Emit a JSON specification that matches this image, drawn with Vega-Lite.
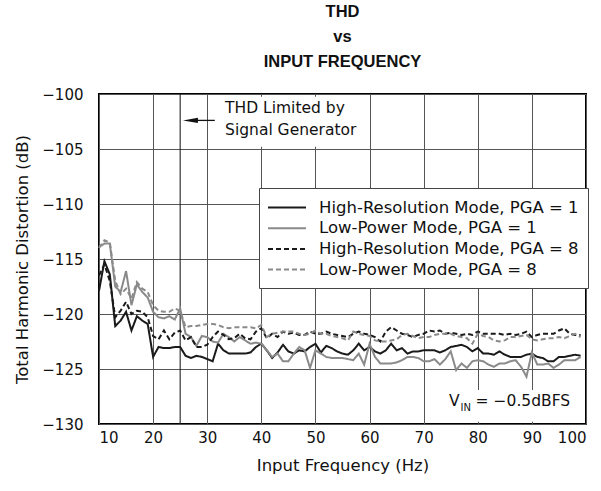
{
  "$schema": "https://vega.github.io/schema/vega-lite/v6.json",
  "width": 487,
  "height": 330,
  "autosize": {"type": "none"},
  "padding": {"left": 99, "top": 94, "right": 15, "bottom": 67},
  "background": "white",
  "config": {
    "font": "DejaVu Sans",
    "view": {"stroke": "black", "strokeWidth": 2},
    "axis": {"gridColor": "#555", "gridWidth": 1, "gridOpacity": 1, "ticks": false, "domain": false, "labelFontSize": 15, "titleFontSize": 16.5, "titleFontWeight": "normal", "labelColor": "#111", "titleColor": "#111"}
  },
  "title": {"text": ["THD", "vs", "INPUT FREQUENCY"], "font": "Liberation Sans", "fontSize": 16.5, "fontWeight": "bold", "lineHeight": 25, "anchor": "middle", "offset": 17, "color": "#111"},
  "datasets": {
    "thd": [
{"f":10,"s":"HR1","v":-117.9},{"f":11,"s":"HR1","v":-115.2},{"f":12,"s":"HR1","v":-116.4},{"f":13,"s":"HR1","v":-121.1},{"f":14,"s":"HR1","v":-120.6},{"f":15,"s":"HR1","v":-119.8},{"f":16,"s":"HR1","v":-121.5},{"f":17,"s":"HR1","v":-120.2},{"f":18,"s":"HR1","v":-120.6},{"f":19,"s":"HR1","v":-120.9},
{"f":20,"s":"HR1","v":-123.9},{"f":21,"s":"HR1","v":-123.0},{"f":22,"s":"HR1","v":-123.1},{"f":23,"s":"HR1","v":-123.1},{"f":24,"s":"HR1","v":-123.0},{"f":25,"s":"HR1","v":-123.0},{"f":26,"s":"HR1","v":-123.8},{"f":27,"s":"HR1","v":-124.0},{"f":28,"s":"HR1","v":-123.8},{"f":29,"s":"HR1","v":-123.9},
{"f":30,"s":"HR1","v":-124.1},{"f":31,"s":"HR1","v":-124.3},{"f":32,"s":"HR1","v":-122.7},{"f":33,"s":"HR1","v":-123.3},{"f":34,"s":"HR1","v":-123.6},{"f":35,"s":"HR1","v":-123.6},{"f":36,"s":"HR1","v":-123.6},{"f":37,"s":"HR1","v":-123.6},{"f":38,"s":"HR1","v":-123.5},{"f":39,"s":"HR1","v":-123.0},
{"f":40,"s":"HR1","v":-122.7},{"f":41,"s":"HR1","v":-123.3},{"f":42,"s":"HR1","v":-124.0},{"f":43,"s":"HR1","v":-123.5},{"f":44,"s":"HR1","v":-122.8},{"f":45,"s":"HR1","v":-123.4},{"f":46,"s":"HR1","v":-123.6},{"f":47,"s":"HR1","v":-123.3},{"f":48,"s":"HR1","v":-123.4},{"f":49,"s":"HR1","v":-123.0},
{"f":50,"s":"HR1","v":-122.7},{"f":51,"s":"HR1","v":-123.5},{"f":52,"s":"HR1","v":-122.9},{"f":53,"s":"HR1","v":-123.1},{"f":54,"s":"HR1","v":-123.4},{"f":55,"s":"HR1","v":-123.6},{"f":56,"s":"HR1","v":-123.7},{"f":57,"s":"HR1","v":-123.3},{"f":58,"s":"HR1","v":-122.7},{"f":59,"s":"HR1","v":-123.3},
{"f":60,"s":"HR1","v":-123.0},{"f":61,"s":"HR1","v":-123.4},{"f":62,"s":"HR1","v":-123.6},{"f":63,"s":"HR1","v":-123.3},{"f":64,"s":"HR1","v":-122.7},{"f":65,"s":"HR1","v":-123.3},{"f":66,"s":"HR1","v":-123.1},{"f":67,"s":"HR1","v":-123.6},{"f":68,"s":"HR1","v":-123.4},{"f":69,"s":"HR1","v":-123.4},
{"f":70,"s":"HR1","v":-123.3},{"f":71,"s":"HR1","v":-123.3},{"f":72,"s":"HR1","v":-123.3},{"f":73,"s":"HR1","v":-123.5},{"f":74,"s":"HR1","v":-123.3},{"f":75,"s":"HR1","v":-123.0},{"f":76,"s":"HR1","v":-122.9},{"f":77,"s":"HR1","v":-122.8},{"f":78,"s":"HR1","v":-123.0},{"f":79,"s":"HR1","v":-123.4},
{"f":80,"s":"HR1","v":-123.1},{"f":81,"s":"HR1","v":-123.6},{"f":82,"s":"HR1","v":-123.6},{"f":83,"s":"HR1","v":-123.7},{"f":84,"s":"HR1","v":-123.4},{"f":85,"s":"HR1","v":-123.7},{"f":86,"s":"HR1","v":-123.9},{"f":87,"s":"HR1","v":-123.9},{"f":88,"s":"HR1","v":-123.9},{"f":89,"s":"HR1","v":-123.7},
{"f":90,"s":"HR1","v":-123.6},{"f":91,"s":"HR1","v":-123.9},{"f":92,"s":"HR1","v":-124.0},{"f":93,"s":"HR1","v":-124.3},{"f":94,"s":"HR1","v":-124.3},{"f":95,"s":"HR1","v":-123.9},{"f":96,"s":"HR1","v":-123.9},{"f":97,"s":"HR1","v":-123.8},{"f":98,"s":"HR1","v":-123.7},{"f":99,"s":"HR1","v":-123.8},
{"f":10,"s":"LP1","v":-113.9},{"f":11,"s":"LP1","v":-113.6},{"f":12,"s":"LP1","v":-113.6},{"f":13,"s":"LP1","v":-117.5},{"f":14,"s":"LP1","v":-118.0},{"f":15,"s":"LP1","v":-116.1},{"f":16,"s":"LP1","v":-119.2},{"f":17,"s":"LP1","v":-117.3},{"f":18,"s":"LP1","v":-118.0},{"f":19,"s":"LP1","v":-118.5},
{"f":20,"s":"LP1","v":-119.8},{"f":21,"s":"LP1","v":-120.3},{"f":22,"s":"LP1","v":-120.4},{"f":23,"s":"LP1","v":-120.2},{"f":24,"s":"LP1","v":-120.5},{"f":25,"s":"LP1","v":-119.5},{"f":26,"s":"LP1","v":-121.8},{"f":27,"s":"LP1","v":-122.1},{"f":28,"s":"LP1","v":-122.9},{"f":29,"s":"LP1","v":-122.0},
{"f":30,"s":"LP1","v":-122.1},{"f":31,"s":"LP1","v":-122.5},{"f":32,"s":"LP1","v":-122.6},{"f":33,"s":"LP1","v":-121.8},{"f":34,"s":"LP1","v":-122.1},{"f":35,"s":"LP1","v":-122.5},{"f":36,"s":"LP1","v":-122.1},{"f":37,"s":"LP1","v":-122.4},{"f":38,"s":"LP1","v":-122.7},{"f":39,"s":"LP1","v":-122.6},
{"f":40,"s":"LP1","v":-122.7},{"f":41,"s":"LP1","v":-123.3},{"f":42,"s":"LP1","v":-123.9},{"f":43,"s":"LP1","v":-123.6},{"f":44,"s":"LP1","v":-124.3},{"f":45,"s":"LP1","v":-124.3},{"f":46,"s":"LP1","v":-123.6},{"f":47,"s":"LP1","v":-123.0},{"f":48,"s":"LP1","v":-123.3},{"f":49,"s":"LP1","v":-124.9},
{"f":50,"s":"LP1","v":-123.3},{"f":51,"s":"LP1","v":-123.6},{"f":52,"s":"LP1","v":-123.9},{"f":53,"s":"LP1","v":-124.0},{"f":54,"s":"LP1","v":-124.0},{"f":55,"s":"LP1","v":-124.0},{"f":56,"s":"LP1","v":-124.1},{"f":57,"s":"LP1","v":-124.2},{"f":58,"s":"LP1","v":-123.6},{"f":59,"s":"LP1","v":-124.6},
{"f":60,"s":"LP1","v":-122.7},{"f":61,"s":"LP1","v":-123.9},{"f":62,"s":"LP1","v":-124.5},{"f":63,"s":"LP1","v":-124.5},{"f":64,"s":"LP1","v":-124.5},{"f":65,"s":"LP1","v":-124.4},{"f":66,"s":"LP1","v":-124.2},{"f":67,"s":"LP1","v":-123.9},{"f":68,"s":"LP1","v":-123.9},{"f":69,"s":"LP1","v":-124.0},
{"f":70,"s":"LP1","v":-124.3},{"f":71,"s":"LP1","v":-124.3},{"f":72,"s":"LP1","v":-124.1},{"f":73,"s":"LP1","v":-124.6},{"f":74,"s":"LP1","v":-124.1},{"f":75,"s":"LP1","v":-123.4},{"f":76,"s":"LP1","v":-125.1},{"f":77,"s":"LP1","v":-124.5},{"f":78,"s":"LP1","v":-124.9},{"f":79,"s":"LP1","v":-124.3},
{"f":80,"s":"LP1","v":-124.2},{"f":81,"s":"LP1","v":-124.3},{"f":82,"s":"LP1","v":-124.6},{"f":83,"s":"LP1","v":-124.8},{"f":84,"s":"LP1","v":-124.5},{"f":85,"s":"LP1","v":-124.5},{"f":86,"s":"LP1","v":-124.3},{"f":87,"s":"LP1","v":-124.2},{"f":88,"s":"LP1","v":-124.8},{"f":89,"s":"LP1","v":-125.7},
{"f":90,"s":"LP1","v":-123.5},{"f":91,"s":"LP1","v":-124.6},{"f":92,"s":"LP1","v":-124.6},{"f":93,"s":"LP1","v":-124.5},{"f":94,"s":"LP1","v":-124.9},{"f":95,"s":"LP1","v":-124.6},{"f":96,"s":"LP1","v":-124.2},{"f":97,"s":"LP1","v":-124.2},{"f":98,"s":"LP1","v":-124.2},{"f":99,"s":"LP1","v":-123.9},
{"f":10,"s":"HR8","v":-116.5},{"f":11,"s":"HR8","v":-115.5},{"f":12,"s":"HR8","v":-117.0},{"f":13,"s":"HR8","v":-120.3},{"f":14,"s":"HR8","v":-119.7},{"f":15,"s":"HR8","v":-118.9},{"f":16,"s":"HR8","v":-120.0},{"f":17,"s":"HR8","v":-119.7},{"f":18,"s":"HR8","v":-119.8},{"f":19,"s":"HR8","v":-120.3},
{"f":20,"s":"HR8","v":-122.0},{"f":21,"s":"HR8","v":-122.3},{"f":22,"s":"HR8","v":-121.5},{"f":23,"s":"HR8","v":-122.3},{"f":24,"s":"HR8","v":-121.7},{"f":25,"s":"HR8","v":-121.5},{"f":26,"s":"HR8","v":-122.4},{"f":27,"s":"HR8","v":-122.1},{"f":28,"s":"HR8","v":-123.0},{"f":29,"s":"HR8","v":-123.0},
{"f":30,"s":"HR8","v":-122.8},{"f":31,"s":"HR8","v":-122.1},{"f":32,"s":"HR8","v":-121.6},{"f":33,"s":"HR8","v":-121.9},{"f":34,"s":"HR8","v":-122.3},{"f":35,"s":"HR8","v":-122.2},{"f":36,"s":"HR8","v":-121.8},{"f":37,"s":"HR8","v":-122.2},{"f":38,"s":"HR8","v":-122.3},{"f":39,"s":"HR8","v":-121.6},
{"f":40,"s":"HR8","v":-121.3},{"f":41,"s":"HR8","v":-122.2},{"f":42,"s":"HR8","v":-121.8},{"f":43,"s":"HR8","v":-122.1},{"f":44,"s":"HR8","v":-121.6},{"f":45,"s":"HR8","v":-121.8},{"f":46,"s":"HR8","v":-121.7},{"f":47,"s":"HR8","v":-121.9},{"f":48,"s":"HR8","v":-121.9},{"f":49,"s":"HR8","v":-121.6},
{"f":50,"s":"HR8","v":-121.8},{"f":51,"s":"HR8","v":-121.8},{"f":52,"s":"HR8","v":-121.6},{"f":53,"s":"HR8","v":-121.8},{"f":54,"s":"HR8","v":-121.9},{"f":55,"s":"HR8","v":-122.0},{"f":56,"s":"HR8","v":-122.1},{"f":57,"s":"HR8","v":-121.8},{"f":58,"s":"HR8","v":-121.6},{"f":59,"s":"HR8","v":-121.8},
{"f":60,"s":"HR8","v":-121.9},{"f":61,"s":"HR8","v":-122.1},{"f":62,"s":"HR8","v":-122.5},{"f":63,"s":"HR8","v":-121.6},{"f":64,"s":"HR8","v":-121.2},{"f":65,"s":"HR8","v":-121.5},{"f":66,"s":"HR8","v":-121.8},{"f":67,"s":"HR8","v":-121.9},{"f":68,"s":"HR8","v":-122.1},{"f":69,"s":"HR8","v":-121.9},
{"f":70,"s":"HR8","v":-121.8},{"f":71,"s":"HR8","v":-121.5},{"f":72,"s":"HR8","v":-121.6},{"f":73,"s":"HR8","v":-121.5},{"f":74,"s":"HR8","v":-121.8},{"f":75,"s":"HR8","v":-121.7},{"f":76,"s":"HR8","v":-121.8},{"f":77,"s":"HR8","v":-121.9},{"f":78,"s":"HR8","v":-121.8},{"f":79,"s":"HR8","v":-121.9},
{"f":80,"s":"HR8","v":-121.6},{"f":81,"s":"HR8","v":-121.8},{"f":82,"s":"HR8","v":-121.8},{"f":83,"s":"HR8","v":-121.8},{"f":84,"s":"HR8","v":-121.8},{"f":85,"s":"HR8","v":-121.9},{"f":86,"s":"HR8","v":-121.8},{"f":87,"s":"HR8","v":-121.9},{"f":88,"s":"HR8","v":-121.8},{"f":89,"s":"HR8","v":-121.6},
{"f":90,"s":"HR8","v":-122.1},{"f":91,"s":"HR8","v":-121.9},{"f":92,"s":"HR8","v":-121.8},{"f":93,"s":"HR8","v":-121.8},{"f":94,"s":"HR8","v":-121.8},{"f":95,"s":"HR8","v":-121.5},{"f":96,"s":"HR8","v":-121.3},{"f":97,"s":"HR8","v":-121.8},{"f":98,"s":"HR8","v":-121.9},{"f":99,"s":"HR8","v":-121.9},
{"f":10,"s":"LP8","v":-114.0},{"f":11,"s":"LP8","v":-113.3},{"f":12,"s":"LP8","v":-113.5},{"f":13,"s":"LP8","v":-117.0},{"f":14,"s":"LP8","v":-118.2},{"f":15,"s":"LP8","v":-117.7},{"f":16,"s":"LP8","v":-118.6},{"f":17,"s":"LP8","v":-117.1},{"f":18,"s":"LP8","v":-117.7},{"f":19,"s":"LP8","v":-118.0},
{"f":20,"s":"LP8","v":-119.2},{"f":21,"s":"LP8","v":-119.7},{"f":22,"s":"LP8","v":-119.8},{"f":23,"s":"LP8","v":-119.8},{"f":24,"s":"LP8","v":-119.5},{"f":25,"s":"LP8","v":-119.7},{"f":26,"s":"LP8","v":-121.2},{"f":27,"s":"LP8","v":-121.1},{"f":28,"s":"LP8","v":-121.1},{"f":29,"s":"LP8","v":-121.0},
{"f":30,"s":"LP8","v":-120.9},{"f":31,"s":"LP8","v":-120.9},{"f":32,"s":"LP8","v":-121.0},{"f":33,"s":"LP8","v":-121.2},{"f":34,"s":"LP8","v":-121.3},{"f":35,"s":"LP8","v":-121.2},{"f":36,"s":"LP8","v":-121.2},{"f":37,"s":"LP8","v":-121.2},{"f":38,"s":"LP8","v":-121.2},{"f":39,"s":"LP8","v":-121.3},
{"f":40,"s":"LP8","v":-121.0},{"f":41,"s":"LP8","v":-122.1},{"f":42,"s":"LP8","v":-121.8},{"f":43,"s":"LP8","v":-121.7},{"f":44,"s":"LP8","v":-121.6},{"f":45,"s":"LP8","v":-121.6},{"f":46,"s":"LP8","v":-121.6},{"f":47,"s":"LP8","v":-121.8},{"f":48,"s":"LP8","v":-121.9},{"f":49,"s":"LP8","v":-121.8},
{"f":50,"s":"LP8","v":-121.5},{"f":51,"s":"LP8","v":-121.8},{"f":52,"s":"LP8","v":-121.8},{"f":53,"s":"LP8","v":-122.0},{"f":54,"s":"LP8","v":-122.1},{"f":55,"s":"LP8","v":-122.2},{"f":56,"s":"LP8","v":-122.4},{"f":57,"s":"LP8","v":-121.6},{"f":58,"s":"LP8","v":-121.8},{"f":59,"s":"LP8","v":-121.9},
{"f":60,"s":"LP8","v":-122.0},{"f":61,"s":"LP8","v":-122.4},{"f":62,"s":"LP8","v":-122.5},{"f":63,"s":"LP8","v":-122.5},{"f":64,"s":"LP8","v":-122.4},{"f":65,"s":"LP8","v":-122.3},{"f":66,"s":"LP8","v":-121.9},{"f":67,"s":"LP8","v":-121.8},{"f":68,"s":"LP8","v":-122.0},{"f":69,"s":"LP8","v":-122.2},
{"f":70,"s":"LP8","v":-122.1},{"f":71,"s":"LP8","v":-122.1},{"f":72,"s":"LP8","v":-121.9},{"f":73,"s":"LP8","v":-121.8},{"f":74,"s":"LP8","v":-121.8},{"f":75,"s":"LP8","v":-121.8},{"f":76,"s":"LP8","v":-122.0},{"f":77,"s":"LP8","v":-122.1},{"f":78,"s":"LP8","v":-122.2},{"f":79,"s":"LP8","v":-122.7},
{"f":80,"s":"LP8","v":-121.8},{"f":81,"s":"LP8","v":-122.0},{"f":82,"s":"LP8","v":-122.1},{"f":83,"s":"LP8","v":-122.4},{"f":84,"s":"LP8","v":-122.5},{"f":85,"s":"LP8","v":-122.4},{"f":86,"s":"LP8","v":-122.1},{"f":87,"s":"LP8","v":-122.1},{"f":88,"s":"LP8","v":-122.0},{"f":89,"s":"LP8","v":-121.9},
{"f":90,"s":"LP8","v":-122.3},{"f":91,"s":"LP8","v":-122.4},{"f":92,"s":"LP8","v":-122.3},{"f":93,"s":"LP8","v":-122.2},{"f":94,"s":"LP8","v":-122.2},{"f":95,"s":"LP8","v":-122.1},{"f":96,"s":"LP8","v":-122.2},{"f":97,"s":"LP8","v":-122.0},{"f":98,"s":"LP8","v":-121.8},{"f":99,"s":"LP8","v":-122.1}
    ]
  },
  "layer": [
    {
      "data": {"values": [{"x1": 31.4, "x2": 57.0, "y1": -100.25, "y2": -104.8}, {"x1": 75.6, "x2": 99.7, "y1": -126.9, "y2": -129.8}]},
      "mark": {"type": "rect", "fill": "white", "stroke": null},
      "encoding": {
        "x": {"field": "x1", "type": "quantitative", "scale": {"domain": [10, 100], "nice": false}, "axis": {"values": [10, 20, 30, 40, 50, 60, 70, 80, 90, 100], "title": "Input Frequency (Hz)", "labelPadding": 6, "titlePadding": 12, "grid": true}},
        "x2": {"field": "x2"},
        "y": {"field": "y1", "type": "quantitative", "scale": {"domain": [-130, -100], "nice": false}, "axis": {"values": [-130, -125, -120, -115, -110, -105, -100], "title": "Total Harmonic Distortion (dB)", "labelPadding": 16, "titlePadding": 11, "grid": true}},
        "y2": {"field": "y2"}
      }
    },
    {
      "data": {"values": [{"f": 25}]},
      "mark": {"type": "rule", "color": "#222", "strokeWidth": 1.1},
      "encoding": {"x": {"field": "f", "type": "quantitative"}}
    },
    {
      "data": {"name": "thd"},
      "mark": {"type": "line", "strokeWidth": 2},
      "encoding": {
        "x": {"field": "f", "type": "quantitative"},
        "y": {"field": "v", "type": "quantitative"},
        "color": {"field": "s", "type": "nominal", "scale": {"domain": ["HR1", "LP1", "HR8", "LP8"], "range": ["#1a1a1a", "#8a8a8a", "#1a1a1a", "#8a8a8a"]},
          "legend": {"orient": "none", "legendX": 160, "legendY": 94, "title": null, "padding": 9, "strokeColor": "#444", "fillColor": "white", "symbolType": "M -2 0 L 2 0", "symbolSize": 361, "symbolStrokeWidth": 2, "symbolOffset": 8.5, "labelFontSize": 16.5, "labelOffset": 21.5, "labelLimit": 500, "rowPadding": 1.7, "labelColor": "#111",
            "labelExpr": "{'HR1': 'High-Resolution Mode, PGA = 1', 'LP1': 'Low-Power Mode, PGA = 1', 'HR8': 'High-Resolution Mode, PGA = 8', 'LP8': 'Low-Power Mode, PGA = 8'}[datum.label]"}},
        "strokeDash": {"field": "s", "type": "nominal", "scale": {"domain": ["HR1", "LP1", "HR8", "LP8"], "range": [[1, 0], [1, 0], [5, 3], [5, 3]]},
          "legend": {"orient": "none", "legendX": 160, "legendY": 94, "title": null, "padding": 9, "strokeColor": "#444", "fillColor": "white", "symbolType": "M -2 0 L 2 0", "symbolSize": 361, "symbolStrokeWidth": 2, "symbolOffset": 8.5, "labelFontSize": 16.5, "labelOffset": 21.5, "labelLimit": 500, "rowPadding": 1.7, "labelColor": "#111",
            "labelExpr": "{'HR1': 'High-Resolution Mode, PGA = 1', 'LP1': 'Low-Power Mode, PGA = 1', 'HR8': 'High-Resolution Mode, PGA = 8', 'LP8': 'Low-Power Mode, PGA = 8'}[datum.label]"}}
      }
    },
    {
      "data": {"values": [{"x": 33.3, "y": -101.3, "t": "THD Limited by"}, {"x": 33.3, "y": -103.3, "t": "Signal Generator"}]},
      "mark": {"type": "text", "align": "left", "baseline": "middle", "fontSize": 15.5, "color": "#111"},
      "encoding": {"x": {"field": "x", "type": "quantitative"}, "y": {"field": "y", "type": "quantitative"}, "text": {"field": "t"}}
    },
    {
      "data": {"values": [{"x1": 27.5, "x2": 31.4, "y": -102.4}]},
      "mark": {"type": "rule", "color": "#111", "strokeWidth": 1.3},
      "encoding": {"x": {"field": "x1", "type": "quantitative"}, "x2": {"field": "x2"}, "y": {"field": "y", "type": "quantitative"}}
    },
    {
      "data": {"values": [{"x": 26.9, "y": -102.4}]},
      "mark": {"type": "point", "shape": "M -1 0 L 1 -0.35 L 1 0.35 Z", "size": 225, "filled": true, "color": "#111", "opacity": 1},
      "encoding": {"x": {"field": "x", "type": "quantitative"}, "y": {"field": "y", "type": "quantitative"}}
    },
    {
      "data": {"values": [{"x": 74.7, "y": -127.9, "t": "V"}]},
      "mark": {"type": "text", "align": "left", "baseline": "middle", "fontSize": 15.5, "color": "#111"},
      "encoding": {"x": {"field": "x", "type": "quantitative"}, "y": {"field": "y", "type": "quantitative"}, "text": {"field": "t"}}
    },
    {
      "data": {"values": [{"x": 76.8, "y": -128.5, "t": "IN"}]},
      "mark": {"type": "text", "align": "left", "baseline": "middle", "fontSize": 10, "color": "#111"},
      "encoding": {"x": {"field": "x", "type": "quantitative"}, "y": {"field": "y", "type": "quantitative"}, "text": {"field": "t"}}
    },
    {
      "data": {"values": [{"x": 79.6, "y": -127.9, "t": "= −0.5dBFS"}]},
      "mark": {"type": "text", "align": "left", "baseline": "middle", "fontSize": 15.5, "color": "#111"},
      "encoding": {"x": {"field": "x", "type": "quantitative"}, "y": {"field": "y", "type": "quantitative"}, "text": {"field": "t"}}
    }
  ]
}
